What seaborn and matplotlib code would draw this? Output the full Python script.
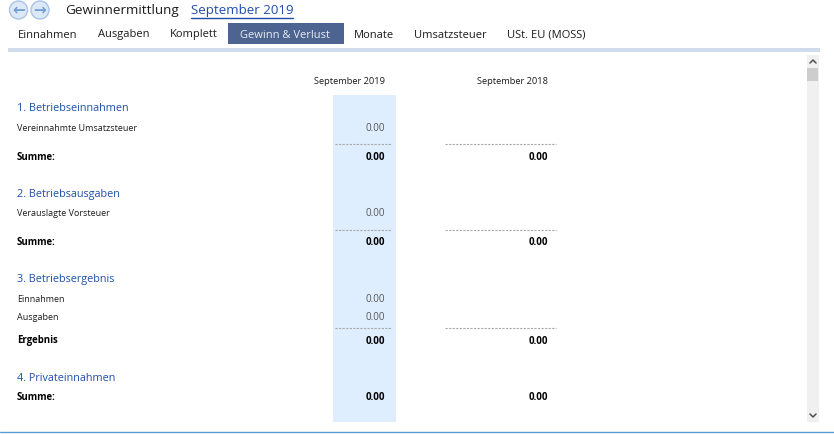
import matplotlib
matplotlib.use('Agg')
import matplotlib.pyplot as plt
from matplotlib.patches import Circle, Rectangle
import seaborn as sns

sns.set_style('white')
plt.rcParams['font.family'] = ['Open Sans', 'DejaVu Sans']

# Report content
tabs = ['Einnahmen', 'Ausgaben', 'Komplett', 'Gewinn & Verlust', 'Monate', 'Umsatzsteuer', 'USt. EU (MOSS)']
periods = ['September 2019', 'September 2018']
sections = ['1. Betriebseinnahmen', '2. Betriebsausgaben', '3. Betriebsergebnis', '4. Privateinnahmen']
detail_labels = ['Vereinnahmte Umsatzsteuer', 'Verauslagte Vorsteuer', 'Einnahmen', 'Ausgaben']
detail_values = ['0.00', '0.00', '0.00', '0.00']
total_labels = ['Summe:', 'Summe:', 'Ergebnis', 'Summe:']
totals_2019 = ['0.00', '0.00', '0.00', '0.00']
totals_2018 = ['0.00', '0.00', '0.00', '0.00']

# Layout in pixels
tab_x = [18, 98, 170, 240, 354, 414, 507]
section_y = [108.5, 194, 279.5, 378.5]
detail_y = [128.5, 214, 299.5, 317.5]
total_y = [157, 242.5, 341, 398]
rule_y = [144, 230, 328]

BLUE = '#1f4fa8'
TEXT = '#1c1c1c'

fig = plt.figure(figsize=(8.34, 4.34), dpi=100)
ax = fig.add_axes([0, 0, 1, 1])
ax.set_xlim(0, 834)
ax.set_ylim(434, 0)
ax.axis('off')

# Navigation buttons and header
for cx, glyph in zip([18.5, 40], ['←', '→']):
    ax.add_patch(Circle((cx, 10), 9, fc='#dce8f6', ec='#a9c4e4', lw=1))
    ax.text(cx, 9.5, glyph, color='#6f9fd6', fontsize=11, fontweight='bold',
            ha='center', va='center', family='DejaVu Sans')
ax.text(65, 10.5, 'Gewinnermittlung', fontsize=9.7, color=TEXT, va='center')
ax.text(191, 10.5, periods[0], fontsize=9.6, color=BLUE, va='center')
ax.plot([191, 293], [18, 18], color=BLUE, lw=1)

# Tab bar
ax.add_patch(Rectangle((228, 23), 116, 21, fc='#4d6490', ec='none'))
for label, x in zip(tabs, tab_x):
    ax.text(x, 35, label, fontsize=8.0, va='center',
            color='#e8ecf4' if label == 'Gewinn & Verlust' else TEXT)
ax.add_patch(Rectangle((8, 48), 812, 3.5, fc='#d0dcec', ec='none'))

# Highlighted current month column
ax.add_patch(Rectangle((333, 95), 63, 327, fc='#deeefe', ec='none'))

# Column headers
ax.text(385, 81.5, periods[0], fontsize=6.7, color=TEXT, ha='right', va='center')
ax.text(548, 81.5, periods[1], fontsize=6.7, color=TEXT, ha='right', va='center')

for label, y in zip(sections, section_y):
    ax.text(17, y, label, fontsize=7.8, color=BLUE, va='center')
for label, val, y in zip(detail_labels, detail_values, detail_y):
    ax.text(17, y, label, fontsize=6.5, color=TEXT, va='center')
    ax.text(385, y, val, fontsize=7, color='#555555', ha='right', va='center')
for label, v19, v18, y in zip(total_labels, totals_2019, totals_2018, total_y):
    ax.text(17, y, label, fontsize=6.9, color='black', fontweight='bold', va='center')
    ax.text(385, y, v19, fontsize=7, color='black', fontweight='bold', ha='right', va='center')
    ax.text(548, y, v18, fontsize=7, color='black', fontweight='bold', ha='right', va='center')

# Dashed rules above totals
for y in rule_y:
    sns.lineplot(x=[335, 392], y=[y, y], ax=ax, color='#a8a8a8', lw=0.8, linestyle=(0, (2, 1.2)))
    sns.lineplot(x=[445, 556], y=[y, y], ax=ax, color='#a8a8a8', lw=0.8, linestyle=(0, (2, 1.2)))

# Scrollbar
ax.add_patch(Rectangle((807, 55), 12, 367, fc='#f0f0f0', ec='none'))
ax.add_patch(Rectangle((807, 68), 11, 13, fc='#cdcdcd', ec='none'))
ax.plot([810, 813, 816], [63, 60, 63], color='#505050', lw=1.1)
ax.plot([810, 813, 816], [414, 417, 414], color='#505050', lw=1.1)

# Window bottom edge
ax.plot([0, 834], [431.5, 431.5], color='#5f9bcf', lw=1)

fig.savefig('out.png', dpi=100)
